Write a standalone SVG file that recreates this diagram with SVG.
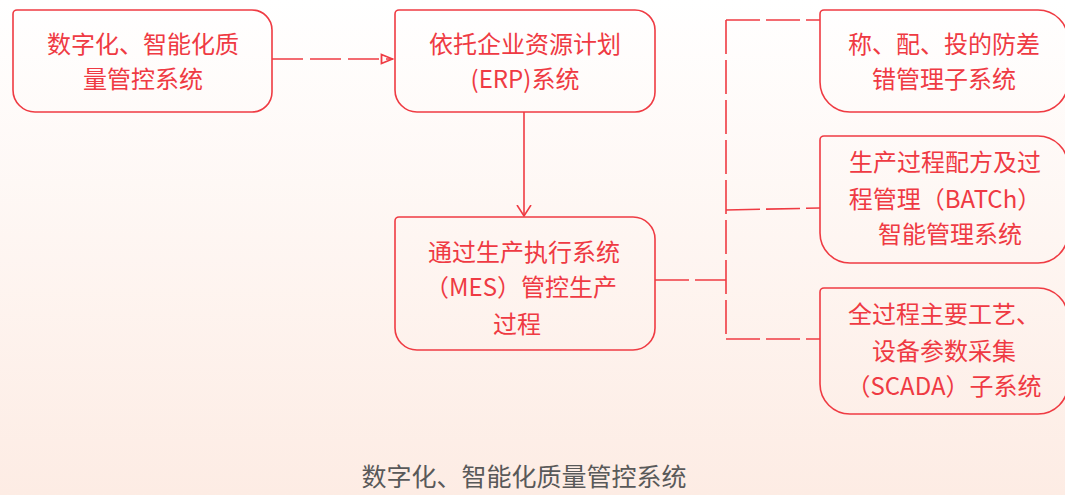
<svg xmlns="http://www.w3.org/2000/svg" width="1065" height="495" viewBox="0 0 1065 495">
<defs>
<linearGradient id="bg" x1="0" y1="0" x2="0" y2="1">
<stop offset="0" stop-color="#ffffff"/>
<stop offset="1" stop-color="#fdece4"/>
</linearGradient>
<marker id="hollow" viewBox="0 0 14 12" refX="13" refY="6" markerWidth="14" markerHeight="12" markerUnits="userSpaceOnUse" orient="auto">
<path d="M1.5,1.5 L12.5,6 L1.5,10.5 Z" fill="none" stroke="#ef3b43" stroke-width="1.8"/>
</marker>
<marker id="vee" viewBox="0 0 12 16" refX="11" refY="8" markerWidth="12" markerHeight="16" markerUnits="userSpaceOnUse" orient="auto">
<path d="M0,1 L11,8 L0,15" fill="none" stroke="#ef3b43" stroke-width="1.6"/>
</marker>
</defs>
<style>
.box{fill:none;stroke:#ef3b43;stroke-width:1.6}
.t{font-family:"Noto Sans CJK SC","Noto Sans",sans-serif;font-size:24px;fill:#ef3a43;text-anchor:middle}
.cap{font-family:"Noto Sans CJK SC","Noto Sans",sans-serif;font-size:25px;fill:#595959;text-anchor:middle}
.c{fill:none;stroke:#ef3b43;stroke-width:1.6}
.d{stroke-dasharray:31 7}
.d2{stroke-dasharray:34 6}
</style>
<rect x="0" y="0" width="1065" height="495" fill="url(#bg)"/>
<g id="connectors">
<path class="c d" d="M272,59 H393" marker-end="url(#hollow)"/>
<path class="c" d="M524,112 V216" marker-end="url(#vee)"/>
<path class="c d2" d="M655,280 H726"/>
<path class="c d2" d="M726,20 V339"/>
<path class="c d2" d="M726,20 H820"/>
<path class="c d2" d="M726,210 L820,208"/>
<path class="c d2" d="M726,339 H820"/>
</g>
<g id="n1">
<path class="box" d="M17,10 H252 A20,20 0 0 1 272,30 V92 A20,20 0 0 1 252,112 H35 A22,22 0 0 1 13,90 V14 A4,4 0 0 1 17,10 Z"/>
<text class="t" x="143" y="53">数字化、智能化质</text>
<text class="t" x="143" y="88">量管控系统</text>
</g>
<g id="n2">
<path class="box" d="M399,10 H635 A20,20 0 0 1 655,30 V92 A20,20 0 0 1 635,112 H417 A22,22 0 0 1 395,90 V14 A4,4 0 0 1 399,10 Z"/>
<text class="t" x="525" y="53">依托企业资源计划</text>
<text class="t" x="525" y="88">(ERP)系统</text>
</g>
<g id="n3">
<path class="box" d="M399,217 H633 A22,22 0 0 1 655,239 V328 A22,22 0 0 1 633,350 H417 A22,22 0 0 1 395,328 V221 A4,4 0 0 1 399,217 Z"/>
<text class="t" x="524" y="261">通过生产执行系统</text>
<text class="t" x="521" y="296">（MES）管控生产</text>
<text class="t" x="517" y="333">过程</text>
</g>
<g id="n4">
<path class="box" d="M824,10 H1038 A30,30 0 0 1 1068,40 V82 A30,30 0 0 1 1038,112 H850 A30,30 0 0 1 820,82 V14 A4,4 0 0 1 824,10 Z"/>
<text class="t" x="944" y="53">称、配、投的防差</text>
<text class="t" x="944" y="88">错管理子系统</text>
</g>
<g id="n5">
<path class="box" d="M824,136 H1038 A30,30 0 0 1 1068,166 V233 A30,30 0 0 1 1038,263 H850 A30,30 0 0 1 820,233 V140 A4,4 0 0 1 824,136 Z"/>
<text class="t" x="945" y="171">生产过程配方及过</text>
<text class="t" x="945" y="208">程管理（BATCh）</text>
<text class="t" x="950" y="243">智能管理系统</text>
</g>
<g id="n6">
<path class="box" d="M824,288 H1038 A30,30 0 0 1 1068,318 V384 A30,30 0 0 1 1038,414 H850 A30,30 0 0 1 820,384 V292 A4,4 0 0 1 824,288 Z"/>
<text class="t" x="944" y="323">全过程主要工艺、</text>
<text class="t" x="944" y="360">设备参数采集</text>
<text class="t" x="944" y="395">（SCADA）子系统</text>
</g>
<text class="cap" x="524" y="486">数字化、智能化质量管控系统</text>
</svg>
